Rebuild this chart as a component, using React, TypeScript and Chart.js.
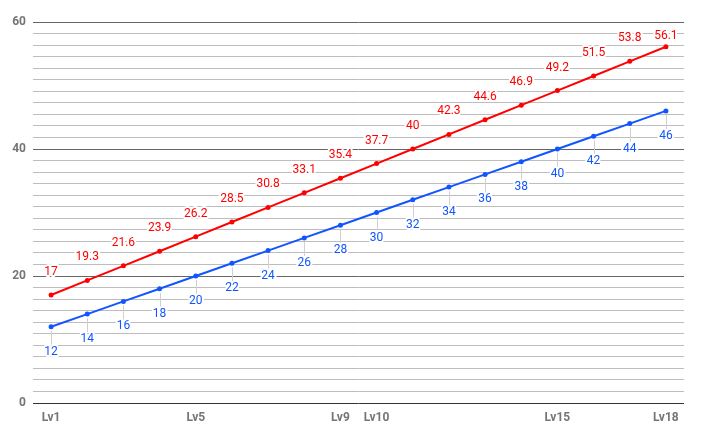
import React, { useEffect, useRef } from "react";
import { Chart, registerables } from "chart.js";

Chart.register(...registerables);

const levels = [
  "Lv1", "Lv2", "Lv3", "Lv4", "Lv5", "Lv6", "Lv7", "Lv8", "Lv9",
  "Lv10", "Lv11", "Lv12", "Lv13", "Lv14", "Lv15", "Lv16", "Lv17", "Lv18",
];
const shownLevels = ["Lv1", "Lv5", "Lv9", "Lv10", "Lv15", "Lv18"];
const redValues = [
  17, 19.3, 21.6, 23.9, 26.2, 28.5, 30.8, 33.1, 35.4,
  37.7, 40, 42.3, 44.6, 46.9, 49.2, 51.5, 53.8, 56.1,
];
const blueValues = [
  12, 14, 16, 18, 20, 22, 24, 26, 28,
  30, 32, 34, 36, 38, 40, 42, 44, 46,
];
const yMajorTicks = [0, 20, 40, 60];
const minorPerMajor = 10;

const RED = "#ff0000";
const BLUE = "#1155ff";

const labelPlugin = {
  id: "pointLabels",
  afterDatasetsDraw(chart: any) {
    const ctx = chart.ctx;
    const area = chart.chartArea;
    ctx.save();
    ctx.font = "12px Roboto";
    ctx.textAlign = "center";
    ctx.textBaseline = "middle";
    chart.data.datasets.forEach((ds: any, di: number) => {
      const meta = chart.getDatasetMeta(di);
      meta.data.forEach((pt: any, i: number) => {
        const v = ds.data[i];
        const text = String(v);
        const x = pt.x;
        const y = pt.y;
        let ly: number;
        if (ds.labelPos === "above") {
          ly = Math.max(y - 23, area.top + 14);
        } else {
          ly = y + 25;
          ctx.beginPath();
          ctx.strokeStyle = "#d0d0d0";
          ctx.lineWidth = 1;
          ctx.moveTo(Math.round(x) + 0.5, y + 4);
          ctx.lineTo(Math.round(x) + 0.5, ly - 7);
          ctx.stroke();
        }
        ctx.lineWidth = 4;
        ctx.lineJoin = "round";
        ctx.strokeStyle = "#ffffff";
        ctx.strokeText(text, x, ly);
        ctx.fillStyle = ds.borderColor;
        ctx.fillText(text, x, ly);
      });
    });
    ctx.restore();
  },
};

export default function App() {
  const ref = useRef<HTMLCanvasElement | null>(null);

  useEffect(() => {
    document.body.style.margin = "0";
    const canvas = ref.current;
    if (!canvas) return;
    const step = yMajorTicks[1] - yMajorTicks[0];
    const per = minorPerMajor + 1;
    const chart = new Chart(canvas, {
      type: "line",
      data: {
        labels: levels,
        datasets: [
          {
            label: "Red",
            data: redValues,
            borderColor: RED,
            backgroundColor: RED,
            borderWidth: 2,
            pointRadius: 2.5,
            pointBorderWidth: 0,
            pointBackgroundColor: RED,
            tension: 0,
            labelPos: "above",
          } as any,
          {
            label: "Blue",
            data: blueValues,
            borderColor: BLUE,
            backgroundColor: BLUE,
            borderWidth: 2,
            pointRadius: 2.5,
            pointBorderWidth: 0,
            pointBackgroundColor: BLUE,
            tension: 0,
            labelPos: "below",
          } as any,
        ],
      },
      options: {
        animation: false,
        responsive: false,
        maintainAspectRatio: false,
        layout: { padding: { top: 22, right: 20, left: 0, bottom: 0 } },
        plugins: {
          legend: { display: false },
          tooltip: { enabled: false },
        },
        scales: {
          x: {
            type: "category",
            offset: true,
            grid: { display: false, drawTicks: false },
            border: { display: false },
            ticks: {
              autoSkip: false,
              maxRotation: 0,
              padding: 8,
              color: "#757575",
              font: { family: "Roboto", size: 12, weight: "bold" },
              callback: (_v: any, i: number) =>
                shownLevels.includes(levels[i]) ? levels[i] : "",
            },
            afterFit: (s: any) => {
              s.height = 35;
            },
          },
          y: {
            min: yMajorTicks[0],
            max: yMajorTicks[yMajorTicks.length - 1],
            border: { display: false },
            afterBuildTicks: (s: any) => {
              const ticks: any[] = [];
              const n = (yMajorTicks.length - 1) * per;
              for (let i = 0; i <= n; i++) {
                ticks.push({ value: yMajorTicks[0] + (i * step) / per });
              }
              s.ticks = ticks;
            },
            grid: {
              drawTicks: false,
              lineWidth: 1,
              color: (c: any) => {
                const i = c.index;
                if (i === 0) return "#333333";
                if (i % per === 0) return "#666666";
                return "#bdbdbd";
              },
            },
            ticks: {
              autoSkip: false,
              padding: 7,
              color: "#757575",
              font: { family: "Roboto", size: 12, weight: "bold" },
              callback: (_v: any, i: number) =>
                i % per === 0 ? String(yMajorTicks[i / per]) : "",
            },
            afterFit: (s: any) => {
              s.width = 33;
            },
          },
        },
      },
      plugins: [labelPlugin],
    } as any);
    return () => chart.destroy();
  }, []);

  return (
    <div style={{ position: "absolute", left: 0, top: 0, width: 704, height: 438 }}>
      <canvas ref={ref} width={704} height={438} style={{ width: 704, height: 438 }} />
    </div>
  );
}
